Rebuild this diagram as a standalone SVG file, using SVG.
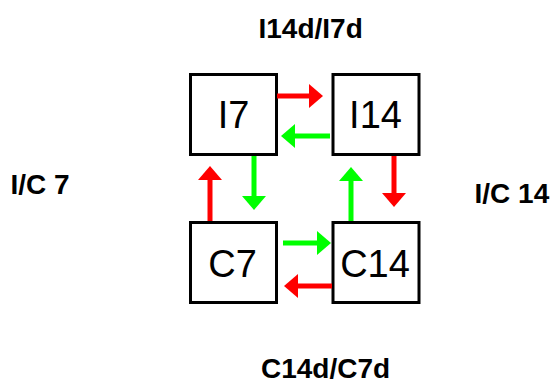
<svg xmlns="http://www.w3.org/2000/svg" width="555" height="381" viewBox="0 0 555 381">
  <style>
    .box rect { fill: #ffffff; stroke: #000000; stroke-width: 3; }
    .box text { font-family: "Liberation Sans", Arial, sans-serif; font-size: 38px; text-anchor: middle; fill: #000; }
    .lbl { font-family: "Liberation Sans", Arial, sans-serif; font-size: 28px; font-weight: bold; fill: #000; }
    .red { stroke: #ff0000; stroke-width: 5; fill: none; marker-end: url(#headRed); }
    .green { stroke: #00ff00; stroke-width: 5; fill: none; marker-end: url(#headGreen); }
  </style>
  <defs>
    <marker id="headRed" viewBox="0 0 14 24" refX="0" refY="12" markerWidth="14" markerHeight="24" markerUnits="userSpaceOnUse" orient="auto">
      <path d="M0,0 L14,12 L0,24 Z" fill="#ff0000"/>
    </marker>
    <marker id="headGreen" viewBox="0 0 14 24" refX="0" refY="12" markerWidth="14" markerHeight="24" markerUnits="userSpaceOnUse" orient="auto">
      <path d="M0,0 L14,12 L0,24 Z" fill="#00ff00"/>
    </marker>
  </defs>

  <rect width="555" height="381" fill="#ffffff"/>

  <!-- side labels -->
  <text class="lbl" x="258.5" y="38">I14d/I7d</text>
  <text class="lbl" x="10.5" y="194">I/C 7</text>
  <text class="lbl" x="474.5" y="203">I/C 14</text>
  <text class="lbl" x="261" y="378">C14d/C7d</text>

  <!-- nodes -->
  <g id="I7" class="box">
    <rect x="190.5" y="74.5" width="86" height="80"/>
    <text x="233.5" y="128">I7</text>
  </g>
  <g id="I14" class="box">
    <rect x="333" y="74.5" width="86" height="80"/>
    <text x="375.5" y="128">I14</text>
  </g>
  <g id="C7" class="box">
    <rect x="190.5" y="222.5" width="86" height="80"/>
    <text x="232.5" y="277">C7</text>
  </g>
  <g id="C14" class="box">
    <rect x="333" y="222.5" width="86" height="80"/>
    <text x="375" y="277">C14</text>
  </g>

  <!-- connectors -->
  <g id="connectors">
    <line class="red" x1="277" y1="96" x2="309" y2="96"/>
    <line class="green" x1="330" y1="136" x2="295" y2="136"/>
    <line class="green" x1="254" y1="156" x2="254" y2="196"/>
    <line class="red" x1="210" y1="221" x2="210" y2="180"/>
    <line class="red" x1="394" y1="156" x2="394" y2="193"/>
    <line class="green" x1="351" y1="221" x2="351" y2="181"/>
    <line class="green" x1="283" y1="243" x2="317" y2="243"/>
    <line class="red" x1="332" y1="286" x2="298" y2="286"/>
  </g>
</svg>
